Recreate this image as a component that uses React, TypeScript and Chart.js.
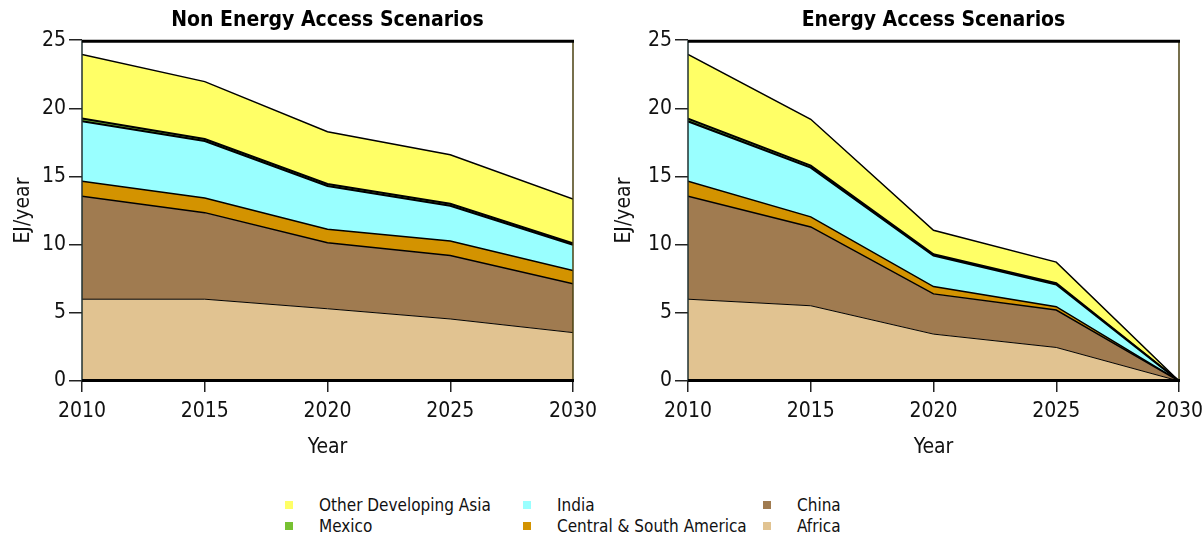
import React, { useEffect, useRef } from "react";
import { Chart, registerables } from "chart.js";

Chart.register(...registerables);

// ---- data ----
const years = [2010, 2015, 2020, 2025, 2030];
const yTickValues = [0, 5, 10, 15, 20, 25];

// stack order bottom -> top
const seriesNames = ["Africa", "China", "Central & South America", "India", "Mexico", "Other Developing Asia"];
const seriesColors = ["#e1c391", "#a07b50", "#d39300", "#99ffff", "#77c132", "#ffff66"];
const seriesBorderWidths = [1, 1.5, 1.5, 2, 2, 1.5];

// Non Energy Access Scenarios (EJ/year)
const africaNEA = [6.0, 6.0, 5.3, 4.55, 3.55];
const chinaNEA = [7.55, 6.35, 4.85, 4.65, 3.58];
const csaNEA = [1.1, 1.07, 0.98, 1.07, 0.98];
const indiaNEA = [4.4, 4.18, 3.17, 2.58, 1.89];
const mexicoNEA = [0.2, 0.15, 0.15, 0.15, 0.1];
const odaNEA = [4.7, 4.21, 3.83, 3.6, 3.25];

// Energy Access Scenarios (EJ/year)
const africaEA = [6.0, 5.52, 3.44, 2.46, 0];
const chinaEA = [7.55, 5.78, 2.95, 2.75, 0];
const csaEA = [1.1, 0.74, 0.54, 0.24, 0];
const indiaEA = [4.4, 3.61, 2.27, 1.63, 0];
const mexicoEA = [0.2, 0.15, 0.1, 0.1, 0];
const odaEA = [4.7, 3.4, 1.76, 1.54, 0];

// legend, row-major in 3 columns as in the reference
const legendOrder = [5, 3, 1, 4, 2, 0];

const FONT = "'Liberation Sans Narrow', 'DejaVu Sans Condensed', 'Liberation Sans', sans-serif";
const TEXT = "#111";

const framePlugin = {
  id: "frame",
  afterDatasetsDraw(chart: any) {
    const { ctx, chartArea: a } = chart;
    ctx.save();
    ctx.lineCap = "butt";
    ctx.strokeStyle = "#1f3030";
    ctx.lineWidth = 1.5;
    ctx.beginPath();
    ctx.moveTo(a.left, a.top);
    ctx.lineTo(a.left, a.bottom);
    ctx.stroke();
    ctx.strokeStyle = "#4a4010";
    ctx.lineWidth = 1.5;
    ctx.beginPath();
    ctx.moveTo(a.right, a.top);
    ctx.lineTo(a.right, a.bottom);
    ctx.stroke();
    ctx.strokeStyle = "#000";
    ctx.lineWidth = 3;
    ctx.beginPath();
    ctx.moveTo(a.left, a.top + 1);
    ctx.lineTo(a.right + 1, a.top + 1);
    ctx.stroke();
    ctx.beginPath();
    ctx.moveTo(a.left, a.bottom - 0.5);
    ctx.lineTo(a.right + 1, a.bottom - 0.5);
    ctx.stroke();
    ctx.restore();
  },
};

type PanelProps = {
  title: string;
  series: number[][];
  left: number;
  width: number;
  yWidth: number;
  padRight: number;
};

function Panel({ title, series, left, width, yWidth, padRight }: PanelProps) {
  const ref = useRef<HTMLCanvasElement | null>(null);
  useEffect(() => {
    if (!ref.current) return;
    const font = { family: FONT, size: 21 };
    const chart = new Chart(ref.current, {
      type: "line",
      data: {
        datasets: series.map((vals, i) => ({
          label: seriesNames[i],
          data: years.map((x, j) => ({ x, y: vals[j] })),
          backgroundColor: seriesColors[i],
          borderColor: "#000",
          borderWidth: seriesBorderWidths[i],
          fill: i === 0 ? "origin" : "-1",
          pointRadius: 0,
          tension: 0,
        })),
      },
      options: {
        responsive: false,
        animation: false,
        layout: { padding: { left: 0, right: padRight, top: 0, bottom: 0 } },
        plugins: {
          legend: { display: false },
          tooltip: { enabled: false },
          title: {
            display: true,
            text: title,
            fullSize: false,
            color: "#000",
            font: { family: FONT, size: 21, weight: "bold" },
            padding: { top: 8, bottom: 7 },
          },
        },
        scales: {
          x: {
            type: "linear",
            min: years[0],
            max: years[years.length - 1],
            afterBuildTicks: (s: any) => {
              s.ticks = years.map((v) => ({ value: v }));
            },
            ticks: {
              callback: (v: any) => String(v),
              font,
              color: TEXT,
              padding: 7,
              maxRotation: 0,
            },
            grid: { drawOnChartArea: false, tickLength: 11, color: "#222", lineWidth: 1.5 },
            border: { display: false },
            title: { display: true, text: "Year", font, color: TEXT, padding: { top: 0, bottom: 10 } },
            afterFit: (s: any) => {
              s.height = 89;
              s.paddingLeft = 0;
              s.paddingRight = 0;
            },
          },
          y: {
            stacked: true,
            min: 0,
            max: 25,
            afterBuildTicks: (s: any) => {
              s.ticks = yTickValues.map((v) => ({ value: v }));
            },
            ticks: { font, color: TEXT, padding: 3 },
            grid: { drawOnChartArea: false, tickLength: 13, color: "#222", lineWidth: 1.5 },
            border: { display: false },
            title: { display: true, text: "EJ/year", font, color: TEXT, padding: { top: 11, bottom: 0 } },
            afterFit: (s: any) => {
              s.width = yWidth;
              s.paddingTop = 0;
              s.paddingBottom = 0;
            },
          },
        },
      },
      plugins: [framePlugin],
    } as any);
    return () => chart.destroy();
  }, []);
  return (
    <canvas
      ref={ref}
      width={width}
      height={470}
      style={{ position: "absolute", left, top: 0, width, height: 470 }}
    />
  );
}

export default function App() {
  useEffect(() => {
    document.body.style.margin = "0";
  }, []);
  const colX = [289, 527, 767];
  const rowY = [505, 526];
  return (
    <div style={{ position: "relative", width: 1202, height: 533, background: "#fff", overflow: "hidden" }}>
      <Panel
        title="Non Energy Access Scenarios"
        series={[africaNEA, chinaNEA, csaNEA, indiaNEA, mexicoNEA, odaNEA]}
        left={0}
        width={601}
        yWidth={82}
        padRight={28}
      />
      <Panel
        title="Energy Access Scenarios"
        series={[africaEA, chinaEA, csaEA, indiaEA, mexicoEA, odaEA]}
        left={601}
        width={601}
        yWidth={87}
        padRight={23}
      />
      {legendOrder.map((si, k) => {
        const col = k % 3;
        const row = Math.floor(k / 3);
        return (
          <div
            key={si}
            style={{
              position: "absolute",
              left: colX[col] - 4,
              top: rowY[row] - 11,
              height: 22,
              display: "flex",
              alignItems: "center",
              fontFamily: FONT,
              fontSize: 17,
              color: TEXT,
              whiteSpace: "nowrap",
            }}
          >
            <span style={{ display: "inline-block", width: 8, height: 8, background: seriesColors[si], marginRight: 26 }} />
            <span>{seriesNames[si]}</span>
          </div>
        );
      })}
    </div>
  );
}
